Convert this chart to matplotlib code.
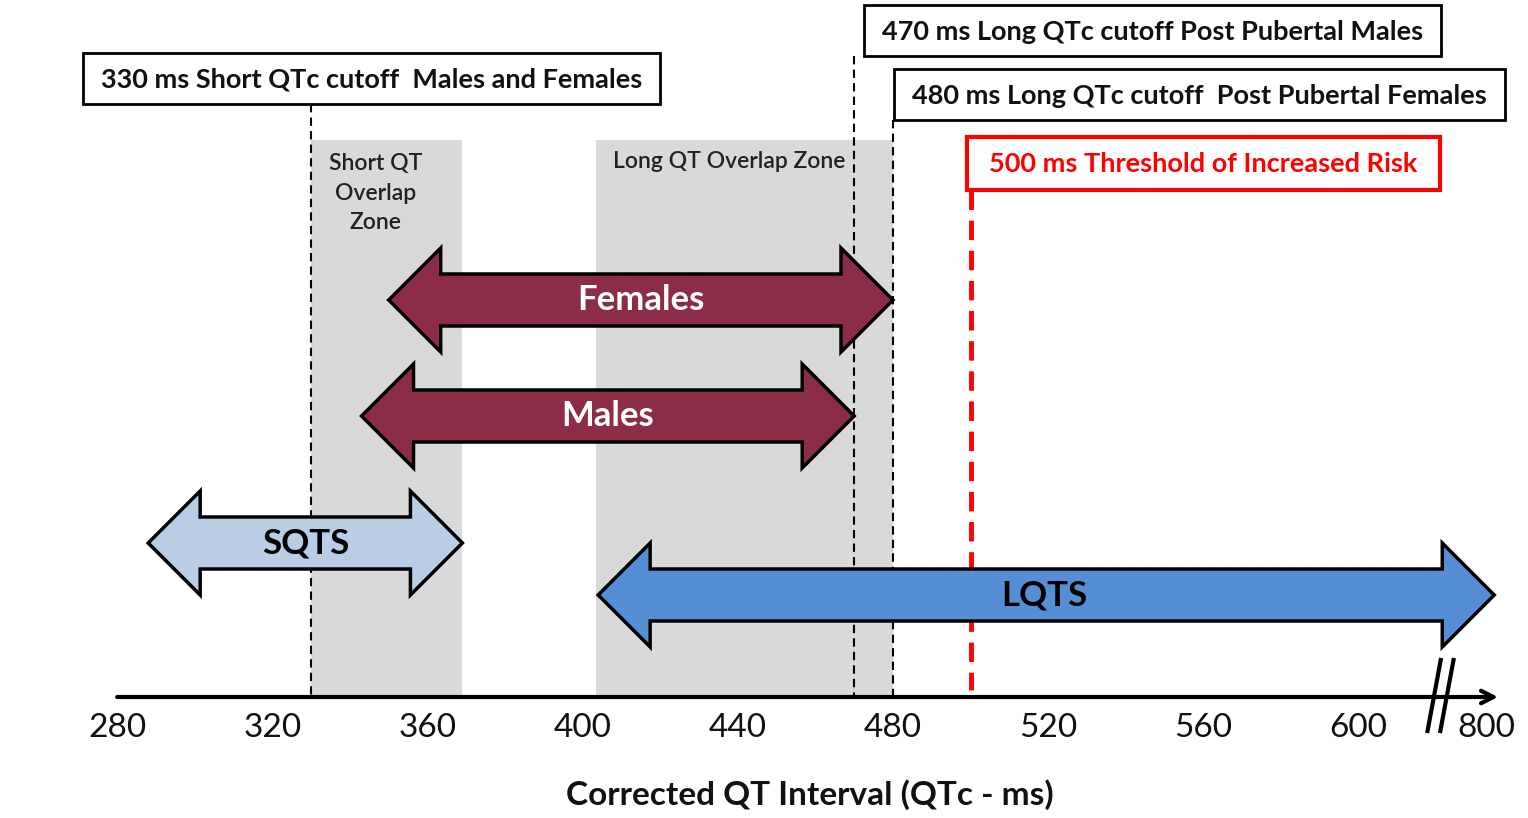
import matplotlib.pyplot as plt
from matplotlib.patches import Polygon, Rectangle

plt.rcParams['font.family'] = ['Lato', 'DejaVu Sans']

# x is QTc in ms, y is a page coordinate (0 = top, 818 = bottom)
tick_ms = [280, 320, 360, 400, 440, 480, 520, 560, 600]
tick_labels = ['280', '320', '360', '400', '440', '480', '520', '560', '600']
break_pos = 633          # where the broken axis shows "800"
break_label = '800'

zones = [('Short QT\nOverlap\nZone', 330, 369), ('Long QT Overlap Zone', 403.5, 480)]

# name, start, end, centre y, fill, text colour
ranges = [
    ('Females', 350, 480, 300, '#8C2D48', 'white'),
    ('Males', 343, 470, 416, '#8C2D48', 'white'),
    ('SQTS', 288, 369, 543, '#B9CDE5', 'black'),
    ('LQTS', 404, 635, 595, '#558ED5', 'black'),
]

cutoffs = [330, 470, 480]
cutoff_text = ['330 ms Short QTc cutoff  Males and Females',
               '470 ms Long QTc cutoff Post Pubertal Males',
               '480 ms Long QTc cutoff  Post Pubertal Females']
risk_ms = 500
risk_text = '500 ms Threshold of Increased Risk'

fig = plt.figure(figsize=(15.28, 8.18), dpi=100)
ax = fig.add_axes([0, 0, 1, 1])
ax.set_xlim(249.8, 643.7)
ax.set_ylim(818, 0)
ax.axis('off')

AXIS_Y = 697
PX = 3.88  # pixels per ms


def dbl_arrow(x0, x1, yc, fc, shaft=26, head=52, head_len=52):
    hl = head_len / PX
    pts = [(x0, yc), (x0 + hl, yc - head), (x0 + hl, yc - shaft),
           (x1 - hl, yc - shaft), (x1 - hl, yc - head), (x1, yc),
           (x1 - hl, yc + head), (x1 - hl, yc + shaft),
           (x0 + hl, yc + shaft), (x0 + hl, yc + head)]
    ax.add_patch(Polygon(pts, closed=True, fc=fc, ec='black', lw=2.5,
                         joinstyle='miter', zorder=4))


# grey overlap zones
for label, a, b in zones:
    ax.add_patch(Rectangle((a, 140), b - a, AXIS_Y - 140, fc='#D9D9D9',
                           ec='none', zorder=1))
ax.text(346.7, 193, zones[0][0], ha='center', va='center', fontsize=16.5,
        fontweight='semibold', linespacing=1.5, color='#222222', zorder=2)
ax.text(437.7, 162, zones[1][0], ha='center', va='center', fontsize=16.5,
        fontweight='semibold', color='#222222', zorder=2)

# cutoff boxes and dashed lines
box_specs = [(271.2, 419.9, 53, 104), (472.5, 621.2, 5, 56), (480.2, 637.8, 69, 120)]
for ms, txt, (bx0, bx1, by0, by1) in zip(cutoffs, cutoff_text, box_specs):
    ax.plot([ms, ms], [by1, AXIS_Y], color='black', lw=1.5,
            dashes=(4, 2.5), zorder=3)
    ax.add_patch(Rectangle((bx0, by0), bx1 - bx0, by1 - by0, fc='white',
                           ec='black', lw=2, zorder=5))
    ax.text((bx0 + bx1) / 2, (by0 + by1) / 2 + 1, txt, ha='center',
            va='center', fontsize=19.5, fontweight='bold', color='#111111',
            zorder=6)

ax.plot([risk_ms, risk_ms], [190, 690], color='#FF0000', lw=3.5,
        dashes=(4, 2.2), zorder=3)
ax.add_patch(Rectangle((499.1, 137), 621 - 499.1, 53, fc='white',
                       ec='#FF0000', lw=3, zorder=5))
ax.text(560, 164, risk_text, ha='center', va='center', fontsize=19.5,
        fontweight='bold', color='#FF0000', zorder=6)

# range arrows
for name, a, b, yc, fc, tc in ranges:
    dbl_arrow(a, b, yc, fc)
    ax.text((a + b) / 2 if name != 'LQTS' else 519, yc, name, ha='center',
            va='center', fontsize=25, fontweight='bold', color=tc, zorder=6)

# axis with arrowhead
ax.annotate('', xy=(636, AXIS_Y), xytext=(280, AXIS_Y),
            arrowprops=dict(arrowstyle='->,head_length=0.9,head_width=0.45',
                            lw=3, color='black', shrinkA=0, shrinkB=0),
            zorder=5)
# axis break marks
for off in (0, 3.3):
    ax.plot([617.8 + off, 621.2 + off], [731, 660], color='black', lw=3,
            zorder=6)

for ms, lab in zip(tick_ms + [break_pos], tick_labels + [break_label]):
    ax.text(ms, 728, lab, ha='center', va='center', fontsize=24,
            color='#111111')

ax.text(458.6, 795, 'Corrected QT Interval (QTc - ms)', ha='center',
        va='center', fontsize=24, fontweight='bold', color='#111111')

fig.savefig('out.png', dpi=100)
